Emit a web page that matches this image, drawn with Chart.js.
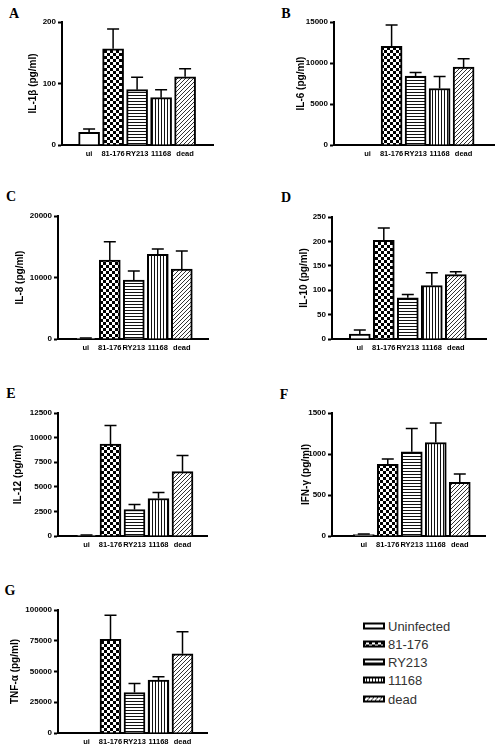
<!DOCTYPE html>
<html>
<head>
<meta charset="utf-8">
<script src="https://cdn.jsdelivr.net/npm/chart.js@4/dist/chart.umd.min.js"></script>
<style>
  body { margin: 0; background: #fff; }
  #fig { position: relative; width: 496px; height: 748px; background: #fff; overflow: hidden; }
  canvas.panel { position: absolute; }
  .tag { position: absolute; transform: translate(-50%, -50%); line-height: 1;
         font: bold 14px 'Liberation Serif', 'Times New Roman', serif; color: #000; }
  .key { position: absolute; left: 363px; display: flex; align-items: center; transform: translateY(-50%);
         font: 13px 'Liberation Sans', Arial, sans-serif; color: #333; }
  .key canvas { margin-right: 3px; }
</style>
</head>
<body>
<div id="fig"></div>
<script>
// strains on the x axis and in the key
const strains = ['ui', '81-176', 'RY213', '11168', 'dead'];
const keyNames = ['Uninfected', '81-176', 'RY213', '11168', 'dead'];

// means and SEM (pg/ml)
const il1b = [20.6, 156.5, 90, 77, 111];
const il1bErr = [5.4, 32, 20, 13, 13];
const il6 = [0, 12020, 8400, 6890, 9500];
const il6Err = [0, 2610, 450, 1470, 1020];
const il8 = [120, 12850, 9590, 13770, 11380];
const il8Err = [60, 2980, 1460, 870, 2930];
const il10 = [10.2, 202, 84.5, 109.7, 132];
const il10Err = [8.2, 25.5, 6.8, 26.3, 5.6];
const il12 = [60, 9330, 2690, 3815, 6540];
const il12Err = [30, 1910, 510, 610, 1630];
const ifng = [18, 875, 1026, 1140, 654];
const ifngErr = [5, 65, 286, 237, 102];
const tnfa = [0, 76090, 32880, 42940, 64400];
const tnfaErr = [0, 19560, 7340, 2720, 17940];

// y tick labels
const il1bTicks = [0, 100, 200];
const il6Ticks = [0, 5000, 10000, 15000];
const il8Ticks = [0, 10000, 20000];
const il10Ticks = [0, 50, 100, 150, 200, 250];
const il12Ticks = [0, 2500, 5000, 7500, 10000, 12500];
const ifngTicks = [0, 500, 1000, 1500];
const tnfaTicks = [0, 25000, 50000, 75000, 100000];

// where each panel sits: axis x, axis end, top tick y, zero y, title x, first bar centre, letter pos
const panels = [
  { tag: 'A', title: 'IL-1\u03b2 (pg/ml)', vals: il1b, err: il1bErr, ticks: il1bTicks,
    L: 62, R: 213, T: 22, B: 145, tx: 33, c0: 77, lx: 14, ly: 14 },
  { tag: 'B', title: 'IL-6 (pg/ml)', vals: il6, err: il6Err, ticks: il6Ticks,
    L: 334, R: 494, T: 22, B: 145, tx: 301, c0: 356, lx: 286, ly: 14 },
  { tag: 'C', title: 'IL-8 (pg/ml)', vals: il8, err: il8Err, ticks: il8Ticks,
    L: 58, R: 208, T: 216, B: 339, tx: 20, c0: 74, lx: 11, ly: 197 },
  { tag: 'D', title: 'IL-10 (pg/ml)', vals: il10, err: il10Err, ticks: il10Ticks,
    L: 332, R: 486, T: 217, B: 339, tx: 304, c0: 347.5, lx: 286, ly: 198 },
  { tag: 'E', title: 'IL-12 (pg/ml)', vals: il12, err: il12Err, ticks: il12Ticks,
    L: 58, R: 207, T: 413, B: 536, tx: 18, c0: 75, lx: 11, ly: 394 },
  { tag: 'F', title: 'IFN-\u03b3 (pg/ml)', vals: ifng, err: ifngErr, ticks: ifngTicks,
    L: 332, R: 485, T: 413, B: 536, tx: 306, c0: 352.6, lx: 284, ly: 395 },
  { tag: 'G', title: 'TNF-\u03b1 (pg/ml)', vals: tnfa, err: tnfaErr, ticks: tnfaTicks,
    L: 58, R: 207, T: 610, B: 733, tx: 15, c0: 75, lx: 10, ly: 591 },
];
const pitch = 30;
const sans = "'Liberation Sans', Arial, sans-serif";

function makePattern(kind) {
  const c = document.createElement('canvas');
  const g = c.getContext('2d');
  if (kind === 'check') {
    c.width = c.height = 6;
    g.fillStyle = '#fff'; g.fillRect(0, 0, 6, 6);
    g.fillStyle = '#000'; g.fillRect(0, 0, 3, 3); g.fillRect(3, 3, 3, 3);
  } else if (kind === 'horiz') {
    c.width = 4; c.height = 3;
    g.fillStyle = '#fff'; g.fillRect(0, 0, 4, 3);
    g.fillStyle = '#111'; g.fillRect(0, 0, 4, 1);
  } else if (kind === 'vert') {
    c.width = 3; c.height = 4;
    g.fillStyle = '#fff'; g.fillRect(0, 0, 3, 4);
    g.fillStyle = '#111'; g.fillRect(0, 0, 1, 4);
  } else if (kind === 'diag') {
    c.width = c.height = 4;
    g.fillStyle = '#fff'; g.fillRect(0, 0, 4, 4);
    g.strokeStyle = '#333'; g.lineWidth = 1;
    g.beginPath();
    g.moveTo(0, 4); g.lineTo(4, 0);
    g.moveTo(-1, 1); g.lineTo(1, -1);
    g.moveTo(3, 5); g.lineTo(5, 3);
    g.stroke();
  } else {
    c.width = c.height = 2;
    g.fillStyle = '#fff'; g.fillRect(0, 0, 2, 2);
  }
  return g.createPattern(c, 'repeat');
}
const fills = ['plain', 'check', 'horiz', 'vert', 'diag'].map(makePattern);

const errorBars = {
  id: 'errorBars',
  afterDatasetsDraw(chart) {
    const { ctx, scales: { x, y } } = chart;
    const ds = chart.data.datasets[0];
    ctx.save();
    ctx.strokeStyle = '#000';
    ctx.lineWidth = 1.5;
    ds.errors.forEach((e, i) => {
      if (!e) return;
      const px = x.getPixelForValue(i);
      const base = y.getPixelForValue(ds.data[i].y);
      const top = y.getPixelForValue(ds.data[i].y + e);
      ctx.beginPath();
      ctx.moveTo(px, base);
      ctx.lineTo(px, top);
      ctx.moveTo(px - 6, top);
      ctx.lineTo(px + 6, top);
      ctx.stroke();
    });
    ctx.restore();
  }
};

const fig = document.getElementById('fig');

panels.forEach(p => {
  const left = Math.round(p.tx - 7);
  const top = p.T - 8;
  const w = p.R + 4 - left;
  const h = p.B + 18 - top;
  const cv = document.createElement('canvas');
  cv.className = 'panel';
  cv.width = w; cv.height = h;
  cv.style.left = left + 'px'; cv.style.top = top + 'px';
  cv.style.width = w + 'px'; cv.style.height = h + 'px';
  fig.appendChild(cv);

  const tag = document.createElement('div');
  tag.className = 'tag';
  tag.textContent = p.tag;
  tag.style.left = p.lx + 'px'; tag.style.top = p.ly + 'px';
  fig.appendChild(tag);

  const xmin = -(p.c0 - p.L) / pitch;
  const xmax = xmin + (p.R - p.L) / pitch;
  const ymax = p.ticks[p.ticks.length - 1];

  new Chart(cv, {
    type: 'bar',
    data: {
      datasets: [{
        data: p.vals.map((v, i) => ({ x: i, y: v })),
        errors: p.err,
        backgroundColor: fills,
        borderColor: '#000',
        borderWidth: 2,
        borderSkipped: 'bottom',
        barThickness: 21,
      }]
    },
    options: {
      responsive: false,
      animation: false,
      devicePixelRatio: 1,
      layout: { padding: { top: 8, right: 4, left: 0, bottom: 0 } },
      plugins: { legend: { display: false }, tooltip: { enabled: false } },
      scales: {
        x: {
          type: 'linear',
          min: xmin,
          max: xmax,
          afterBuildTicks: s => { s.ticks = strains.map((_, i) => ({ value: i })); },
          afterFit: s => { s.height = 18; },
          grid: { display: false, drawTicks: false },
          border: { display: true, color: '#000', width: 2 },
          ticks: {
            autoSkip: false, maxRotation: 0, padding: 4, color: '#000',
            font: { family: sans, size: 7.5, weight: 'bold' },
            callback: v => strains[v]
          }
        },
        y: {
          min: 0,
          max: ymax,
          afterBuildTicks: s => { s.ticks = p.ticks.map(v => ({ value: v })); },
          afterFit: s => { s.width = p.L - left; },
          grid: { drawOnChartArea: false, drawTicks: true, tickLength: 4, tickWidth: 2, tickColor: '#000' },
          border: { display: true, color: '#000', width: 2 },
          ticks: {
            padding: 2, color: '#000',
            font: { family: sans, size: 8, weight: 'bold' },
            callback: v => String(v)
          },
          title: {
            display: true, text: p.title, color: '#000', padding: { top: 1, bottom: 0 },
            font: { family: sans, size: 10, weight: 'bold' }
          }
        }
      }
    },
    plugins: [errorBars]
  });
});

// key in the lower right
const keyRows = [626, 644, 662, 680, 699];
keyNames.forEach((name, i) => {
  const row = document.createElement('div');
  row.className = 'key';
  row.style.top = keyRows[i] + 'px';
  const sw = document.createElement('canvas');
  sw.width = 22; sw.height = 7;
  const g = sw.getContext('2d');
  g.translate(0, 1);
  g.fillStyle = fills[i];
  g.fillRect(0, -1, 22, 7);
  g.setTransform(1, 0, 0, 1, 0, 0);
  g.strokeStyle = '#000';
  g.lineWidth = 2;
  g.strokeRect(1, 1, 20, 5);
  row.appendChild(sw);
  row.appendChild(document.createTextNode(name));
  fig.appendChild(row);
});
</script>
</body>
</html>
